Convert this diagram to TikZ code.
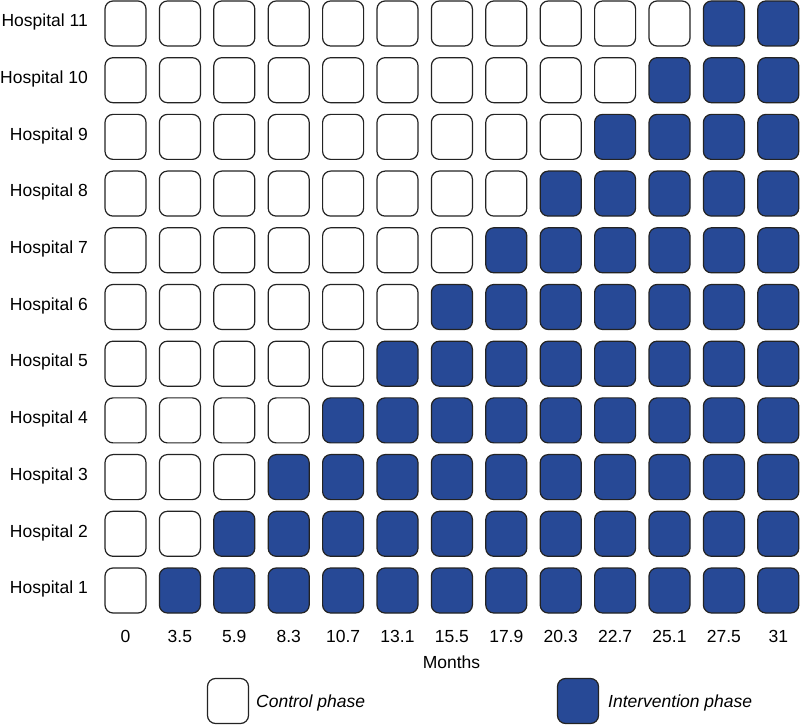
\documentclass[tikz,border=0pt]{standalone}
\usepackage{fontspec}
\setmainfont{Liberation Sans}
\definecolor{intblue}{RGB}{39,73,150}
\definecolor{boxline}{RGB}{35,35,35}
\begin{document}
\begin{tikzpicture}[x=1pt, y=1pt,
    cell/.style={draw=boxline, line width=1.2pt, rounded corners=8pt,
        minimum width=41pt, minimum height=45pt, inner sep=0pt},
    lbl/.style={font=\fontsize{17.5}{20}\selectfont, inner sep=0pt}]
    \useasboundingbox (0,0) rectangle (801,724);

    % hospitals (rows) and months (columns)
    \foreach \r in {1,...,11} {
        \node[lbl, anchor=base east] (hosp\r) at (88, {133.5+56.7*(\r-1)-3.3}) {Hospital \r};
        \foreach \c in {1,...,13} {
            \ifnum\c>\r \def\fillcol{intblue}\else \def\fillcol{white}\fi
            \node[cell, fill=\fillcol] (cell-\r-\c) at ({125.5+54.4*(\c-1)}, {133.5+56.7*(\r-1)}) {};
        }
    }

    \foreach \m [count=\c] in {0,3.5,5.9,8.3,10.7,13.1,15.5,17.9,20.3,22.7,25.1,27.5,31}
        \node[lbl, anchor=base] (month\c) at ({125.5+54.4*(\c-1)}, 82) {\m};
    \node[lbl, anchor=base] (months) at (451.5, 56) {Months};

    % legend
    \node[cell, fill=white] (legctrl) at (228, 23) {};
    \node[lbl, anchor=base west, font=\fontsize{17.5}{20}\selectfont\itshape] (legctrltxt) at (256, 17) {Control phase};
    \node[cell, fill=intblue] (legint) at (578, 23) {};
    \node[lbl, anchor=base west, font=\fontsize{17.5}{20}\selectfont\itshape] (leginttxt) at (608, 17) {Intervention phase};
\end{tikzpicture}
\end{document}
